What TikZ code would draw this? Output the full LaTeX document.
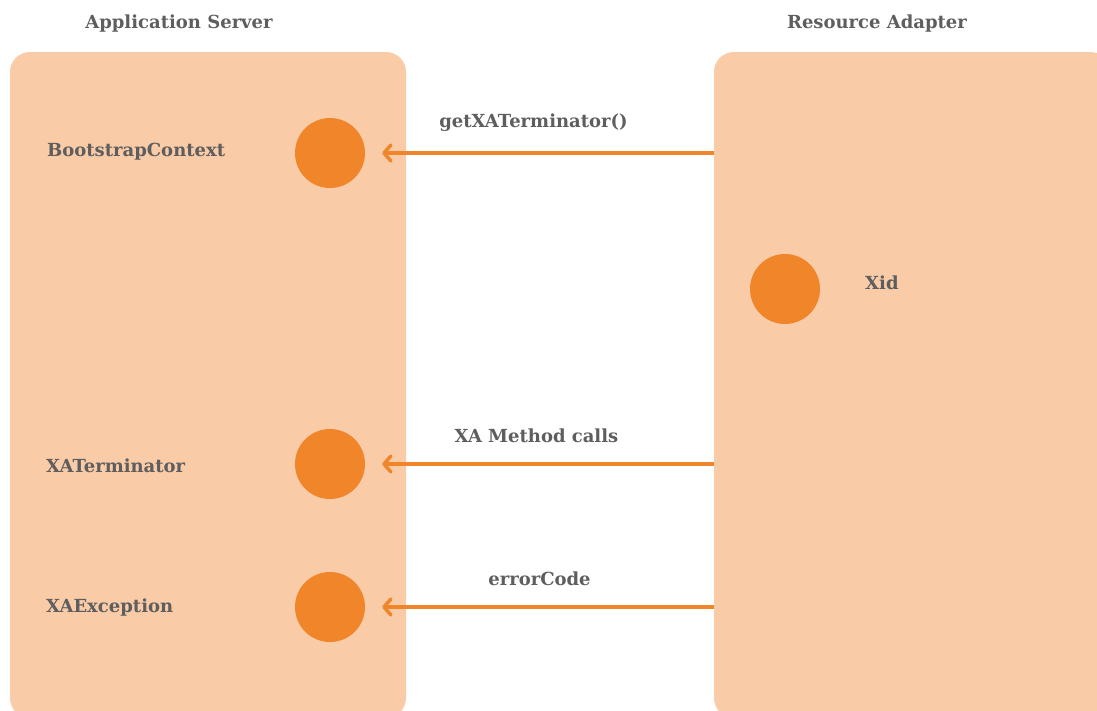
\documentclass[tikz,border=0pt]{standalone}
\usepackage{fontspec}
\setmainfont{DejaVu Serif}
\usepackage{xcolor}
\usetikzlibrary{arrows.meta, positioning}
\definecolor{boxpeach}{HTML}{F9CBA7}
\definecolor{dotorange}{HTML}{F0852A}
\definecolor{labelgray}{HTML}{5E5E5E}
\tikzset{
    panel/.style={fill=boxpeach, rounded corners=20pt, minimum width=396pt, minimum height=666pt, inner sep=0pt},
    dot/.style={circle, fill=dotorange, minimum size=70pt, inner sep=0pt},
    lbl/.style={text=labelgray, font=\bfseries\fontsize{18}{21}\selectfont, inner sep=0pt},
    call/.style={->, dotorange, line width=3.5pt, shorten >=17pt}
}

\begin{document}
\begin{tikzpicture}[x=1pt, y=-1pt, >={Straight Barb[length=7pt, width=16pt, line cap=round, line join=round]}]
    \useasboundingbox (0,0) rectangle (1097,710);
    \clip (0,0) rectangle (1097,710);
    % the two sides
    \node[panel] (as) at (208,385) {};
    \node[panel] (ra) at (912,385) {};
    \node[lbl] (asT) at (179,24) {Application Server};
    \node[lbl] (raT) at (877,24) {Resource Adapter};
    % application server side
    \node[dot] (bc) at (330,153) {};
    \node[dot] (xt) at (330,464) {};
    \node[dot] (xe) at (330,607) {};
    \node[lbl, anchor=west] (bcL) at (47,152) {BootstrapContext};
    \node[lbl, anchor=west] (xtL) at (46,466) {XATerminator};
    \node[lbl, anchor=west] (xeL) at (46,608) {XAException};
    % resource adapter side
    \node[dot] (xid) at (785,289) {};
    \node[lbl, anchor=west] (xidL) at (865,283) {Xid};
    % calls
    \draw[call] (ra.west |- bc) -- (bc) node[lbl, midway, above=20pt, xshift=-6pt] {getXATerminator()};
    \draw[call] (ra.west |- xt) -- (xt) node[lbl, midway, above=20pt, xshift=-3pt] {XA Method calls};
    \draw[call] (ra.west |- xe) -- (xe) node[lbl, midway, above=20pt] {errorCode};
\end{tikzpicture}
\end{document}
